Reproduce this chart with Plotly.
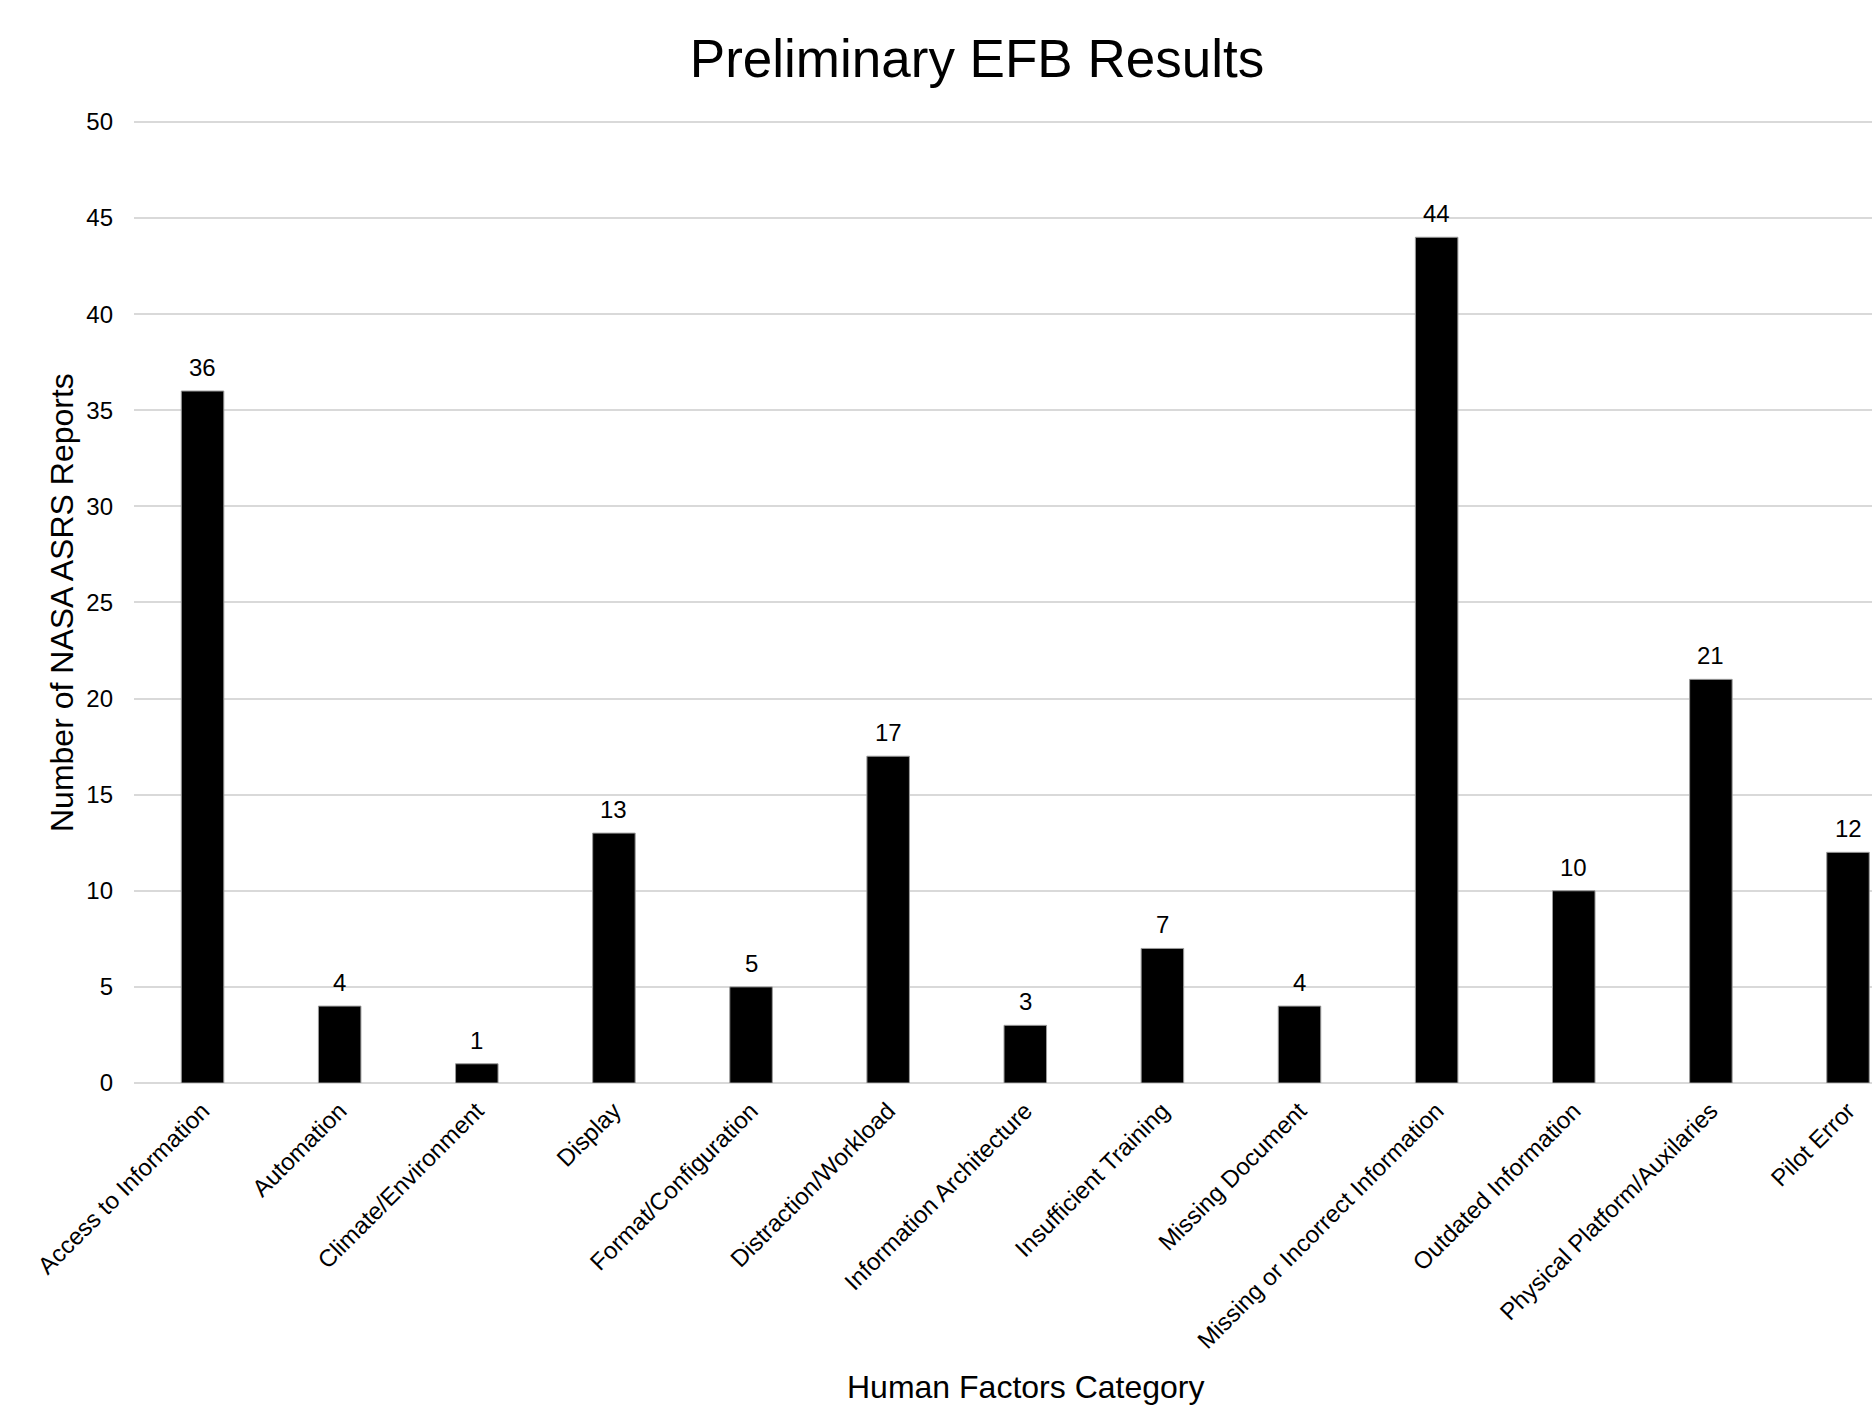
import plotly.graph_objects as go

categories = [
    "Access to Information",
    "Automation",
    "Climate/Environment",
    "Display",
    "Format/Configuration",
    "Distraction/Workload",
    "Information Architecture",
    "Insufficient Training",
    "Missing Document",
    "Missing or Incorrect Information",
    "Outdated Information",
    "Physical Platform/Auxilaries",
    "Pilot Error",
]
report_counts = [36, 4, 1, 13, 5, 17, 3, 7, 4, 44, 10, 21, 12]
y_ticks = [0, 5, 10, 15, 20, 25, 30, 35, 40, 45, 50]

FONT = "Liberation Sans, Arial, sans-serif"

W, H = 1872, 1405
LEFT, TOP, BOTTOM = 134, 120, 322
Y_MAX = 50.1  # a little headroom so the 50 gridline is drawn

fig = go.Figure(
    go.Bar(
        x=categories,
        y=report_counts,
        marker=dict(color="#000000", line=dict(color="#9a9a9a", width=1)),
        hoverinfo="x+y",
    )
)

# value labels above each bar
for cat, val in zip(categories, report_counts):
    fig.add_annotation(
        x=cat, y=val, text=str(val), showarrow=False,
        xref="x", yref="y", yanchor="bottom", yshift=8,
        font=dict(family=FONT, size=24, color="#000000"),
    )

plot_w = W - LEFT
plot_h = H - TOP - BOTTOM

# axis titles
fig.add_annotation(
    text="Number of NASA ASRS Reports", textangle=-90, showarrow=False,
    xref="paper", yref="paper",
    x=(62 - LEFT) / plot_w, y=(H - BOTTOM - 603) / plot_h,
    xanchor="center", yanchor="middle",
    font=dict(family=FONT, size=32, color="#000000"),
)
fig.add_annotation(
    text="Human Factors Category", showarrow=False,
    xref="paper", yref="paper",
    x=(1025 - LEFT) / plot_w, y=(H - BOTTOM - 1387) / plot_h,
    xanchor="center", yanchor="middle",
    font=dict(family=FONT, size=32, color="#000000"),
)

fig.update_layout(
    width=W, height=H,
    margin=dict(l=LEFT, r=0, t=TOP, b=BOTTOM, pad=0),
    paper_bgcolor="#ffffff", plot_bgcolor="#ffffff",
    showlegend=False,
    bargap=0.69,
    title=dict(
        text="Preliminary EFB Results",
        x=977 / W, xanchor="center", xref="container",
        y=1 - 58 / H, yanchor="middle", yref="container",
        font=dict(family=FONT, size=53, color="#000000"),
    ),
    xaxis=dict(
        type="category",
        range=[-0.5, 12.175],
        tickangle=-45,
        tickfont=dict(family=FONT, size=24, color="#000000"),
        showgrid=False, showline=False, zeroline=False,
        ticks="",
        ticklabelstandoff=8,
    ),
    yaxis=dict(
        range=[0, Y_MAX],
        tickvals=y_ticks,
        tickfont=dict(family=FONT, size=24, color="#000000"),
        showgrid=True, gridcolor="#d9d9d9", gridwidth=2,
        zeroline=True, zerolinecolor="#d9d9d9", zerolinewidth=2,
        showline=False, ticks="",
        ticklabelstandoff=20,
    ),
)

fig.write_html("out.html")
